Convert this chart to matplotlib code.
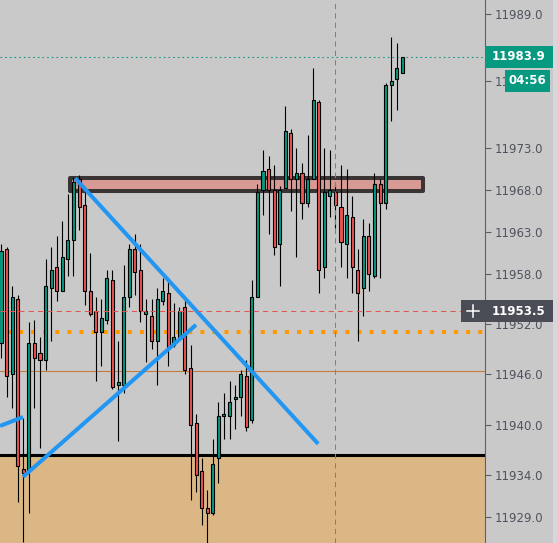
import numpy as np
import matplotlib.pyplot as plt
from matplotlib.patches import Rectangle

plt.rcParams['font.family'] = ['DejaVu Sans']

# 1-minute candles, left to right (price values)
opens = [11949.75, 11961.0, 11946.0, 11955.0, 11934.75, 11934.5, 11949.75, 11948.5, 11947.75, 11956.25,
         11958.75, 11956.0, 11959.75, 11962.0, 11969.25, 11966.25, 11956.0, 11953.5, 11951.0, 11952.5,
         11957.25, 11944.75, 11944.75, 11955.25, 11961.0, 11958.5, 11953.25, 11953.0, 11950.0, 11954.75,
         11955.75, 11949.5, 11950.5, 11954.0, 11946.75, 11940.25, 11934.5, 11930.0, 11929.5, 11936.0,
         11941.0, 11941.0, 11943.0, 11943.25, 11945.75, 11940.5, 11955.25, 11968.0, 11970.5, 11968.0,
         11961.5, 11968.25, 11974.75, 11969.25, 11970.0, 11966.5, 11969.25, 11978.5, 11958.75, 11967.25,
         11967.75, 11966.0, 11961.5, 11964.75, 11958.5, 11956.25, 11962.5, 11957.75, 11968.75, 11966.5,
         11980.5, 11981.25, 11982.0]
highs = [11961.5, 11961.25, 11956.5, 11955.5, 11940.75, 11952.25, 11952.5, 11950.5, 11959.75, 11961.25,
         11962.5, 11964.25, 11967.5, 11969.5, 11969.75, 11968.25, 11960.5, 11955.25, 11955.0, 11958.5,
         11958.5, 11950.0, 11959.0, 11961.5, 11962.75, 11961.5, 11955.0, 11955.0, 11956.25, 11957.5,
         11957.5, 11954.5, 11954.0, 11955.25, 11949.5, 11941.25, 11936.0, 11932.25, 11938.25, 11942.75,
         11943.75, 11945.25, 11944.75, 11946.5, 11947.75, 11957.25, 11968.75, 11972.75, 11972.0, 11971.0,
         11968.5, 11978.0, 11975.25, 11973.0, 11971.25, 11974.5, 11982.5, 11978.75, 11973.0, 11972.75,
         11968.75, 11971.0, 11970.5, 11967.25, 11961.0, 11964.5, 11964.0, 11970.0, 11969.25, 11980.75,
         11986.25, 11985.5, 11983.9]
lows = [11948.0, 11943.25, 11942.0, 11930.75, 11926.0, 11929.5, 11942.0, 11937.25, 11946.5, 11950.0,
        11954.75, 11956.0, 11957.75, 11957.75, 11963.25, 11954.25, 11953.0, 11945.25, 11947.0, 11952.0,
        11944.25, 11938.0, 11943.75, 11954.0, 11955.5, 11952.25, 11947.5, 11949.0, 11944.75, 11954.25,
        11947.0, 11949.25, 11950.25, 11946.0, 11931.0, 11932.0, 11928.0, 11925.5, 11929.25, 11933.0,
        11938.25, 11938.25, 11939.5, 11941.0, 11939.25, 11940.25, 11955.25, 11965.0, 11962.75, 11960.25,
        11956.5, 11968.25, 11965.5, 11960.0, 11964.5, 11966.0, 11969.25, 11955.75, 11957.5, 11964.75,
        11963.5, 11958.75, 11957.5, 11955.75, 11950.0, 11953.0, 11956.0, 11957.5, 11957.5, 11965.75,
        11976.25, 11977.5, 11982.0]
closes = [11960.75, 11945.75, 11955.25, 11935.0, 11934.25, 11949.75, 11948.0, 11947.75, 11956.5, 11958.5,
          11956.0, 11960.0, 11962.0, 11969.0, 11966.0, 11956.0, 11953.25, 11951.0, 11952.75, 11957.5,
          11944.5, 11945.0, 11955.25, 11961.0, 11958.25, 11953.5, 11953.5, 11950.0, 11955.0, 11956.0,
          11949.25, 11950.5, 11953.5, 11946.5, 11940.0, 11934.0, 11930.0, 11929.5, 11935.25, 11941.0,
          11941.25, 11942.75, 11943.25, 11946.0, 11939.75, 11955.25, 11967.75, 11970.25, 11968.0, 11961.25,
          11968.0, 11975.0, 11969.25, 11970.0, 11966.5, 11969.25, 11978.75, 11958.5, 11967.75, 11968.0,
          11966.25, 11961.75, 11965.0, 11958.75, 11955.75, 11962.5, 11958.0, 11968.75, 11966.5, 11980.5,
          11981.0, 11982.5, 11983.9]

tick_values = [11929.0, 11934.0, 11940.0, 11946.0, 11952.0, 11958.0, 11963.0, 11968.0, 11973.0, 11981.0, 11989.0]

last_price = 11983.9
cross_price = 11953.5
cross_bar = 60
timer_text = '04:56'
orange_level = 11951.0
brown_level = 11946.4
demand_top = 11936.4
zone_x = [12.4, 75.7]
zone_y = [11967.85, 11969.4]
trend_down = ([13.3, 56.9], [11969.4, 11937.7])
trend_up = ([3.95, 34.98], [11933.76, 11951.9])
trend_old = ([-0.18, 3.95], [11939.84, 11940.9])

TEAL = '#089981'
RED = '#ef5350'
BG = '#c9c9c9'
BLUE = '#2196f3'

ymin, ymax = 11925.87, 11990.67
W, H = 557, 543
plot_w = 485
ppu = H / (ymax - ymin)   # pixels per price unit

fig = plt.figure(figsize=(W / 100, H / 100), dpi=100, facecolor=BG)
ax = fig.add_axes([0, 0, plot_w / W, 1], facecolor=BG)
ax.set_xlim(-0.18, 86.83)
ax.set_ylim(ymin, ymax)

o = np.array(opens); c = np.array(closes)
hi = np.array(highs); lo = np.array(lows)
x = np.arange(len(o))

# levels and zones
ax.axhspan(ymin, demand_top, color='#dbb785', zorder=0.5, lw=0)
ax.axhline(demand_top, color='black', lw=2.2, zorder=1)
ax.axhline(brown_level, color='#c47b3c', lw=0.8, zorder=1)
ax.axhline(orange_level, xmin=7 / plot_w, color='#ff9800', lw=2.9, dashes=(1, 2),
           solid_capstyle='butt', dash_capstyle='butt', zorder=1)
ax.axhline(last_price, color=TEAL, lw=0.8, dashes=(1.4, 2.8), zorder=1)

ax.add_patch(Rectangle((zone_x[0], zone_y[0]), zone_x[1] - zone_x[0], zone_y[1] - zone_y[0],
                       fc='#d89a95', ec='#3b3434', lw=2.9, joinstyle='round', zorder=2))

# candles
cols = np.where(c >= o, TEAL, RED)
ax.vlines(x, lo, hi, color='black', lw=0.8, zorder=3)
ax.bar(x, np.maximum(np.abs(c - o), 0.3), bottom=np.minimum(o, c), width=0.55,
       color=cols, edgecolor='black', linewidth=0.8, zorder=3.5)

# trend lines
for tx, ty in (trend_down, trend_up, trend_old):
    ax.plot(tx, ty, color=BLUE, lw=2.9, solid_capstyle='butt', zorder=4)

# crosshair
ax.axvline(cross_bar, color='#e2584f', lw=0.75, dashes=(5, 4), zorder=5)
ax.axhline(cross_price, xmax=461 / plot_w, color='#e2584f', lw=0.75, dashes=(5, 4), zorder=5)

# price scale
for s in ['top', 'left', 'bottom']:
    ax.spines[s].set_visible(False)
ax.spines['right'].set_color('#5d606b')
ax.spines['right'].set_linewidth(0.8)
ax.set_xticks([])
ax.yaxis.tick_right()
ax.set_yticks(tick_values)
ax.set_yticklabels(['%.1f' % v for v in tick_values])
ax.tick_params(axis='y', direction='out', length=4, width=0.8, color='#5d606b',
               labelcolor='#50535e', labelsize=8.5, pad=3)

# labels on the price scale
lab = fig.add_axes([plot_w / W, 0, (W - plot_w) / W, 1])
lab.set_xlim(0, W - plot_w)
lab.set_ylim(ymin, ymax)
lab.axis('off')
bh = 22 / ppu
lab.add_patch(Rectangle((68, ymin), 4, ymax - ymin, fc='#d6d6dd', lw=0))

lab.add_patch(Rectangle((0, last_price - bh / 2), 68, bh, fc=TEAL, lw=0))
lab.text(34, last_price, '%.1f' % last_price, color='white', fontsize=8.5,
         fontweight='bold', ha='center', va='center')

t_y = last_price - 24 / ppu
lab.add_patch(Rectangle((20, t_y - bh / 2), 45, bh, fc=TEAL, lw=0))
lab.text(42.5, t_y, timer_text, color='white', fontsize=8.5, fontweight='bold',
         ha='center', va='center')

lab.add_patch(Rectangle((0, cross_price - bh / 2), 68, bh, fc='#4a4d56', lw=0))
lab.text(34, cross_price, '%.1f' % cross_price, color='white', fontsize=8.5,
         fontweight='bold', ha='center', va='center')
lab.add_patch(Rectangle((-24, cross_price - bh / 2), 24, bh, fc='#4a4d56', lw=0, clip_on=False))
lab.plot([-18, -6], [cross_price, cross_price], color='white', lw=1.1, clip_on=False)
lab.plot([-12, -12], [cross_price - 6 / ppu, cross_price + 6 / ppu], color='white', lw=1.1,
         clip_on=False)

fig.savefig('out.png', dpi=100, facecolor=BG)
